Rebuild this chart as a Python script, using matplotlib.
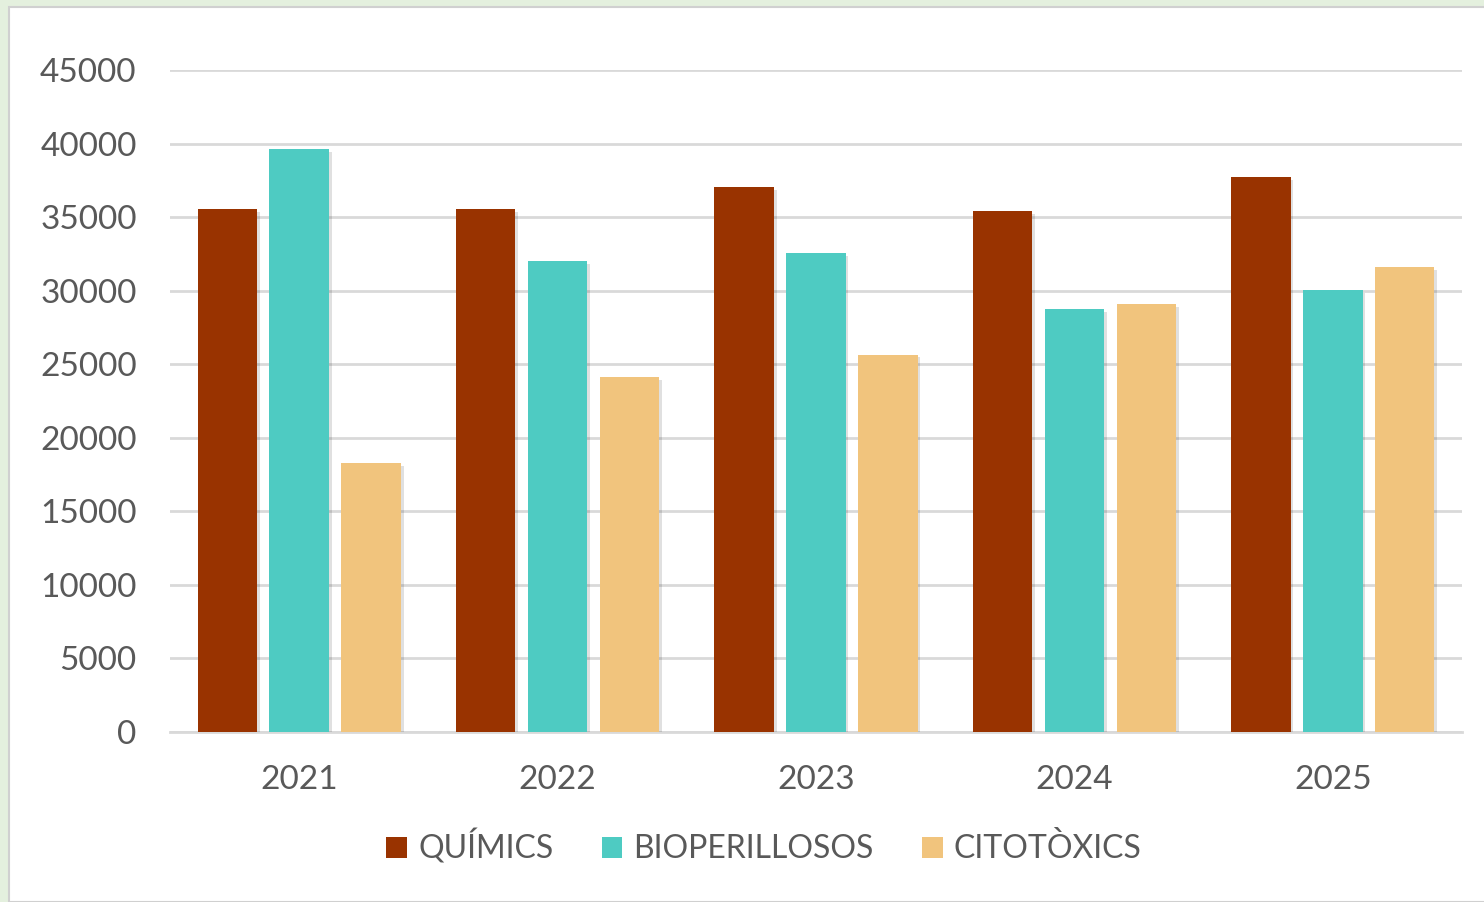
import matplotlib
matplotlib.use('Agg')
import matplotlib.pyplot as plt
import matplotlib.patheffects as pe
from matplotlib.patches import Rectangle, Patch
import numpy as np

years = ['2021', '2022', '2023', '2024', '2025']
quimics = [35550, 35550, 37050, 35400, 37700]
bioperillosos = [39600, 32000, 32550, 28750, 30050]
citotoxics = [18300, 24150, 25650, 29100, 31600]

series = [('QUÍMICS', quimics, '#993300'),
          ('BIOPERILLOSOS', bioperillosos, '#4ECBC2'),
          ('CITOTÒXICS', citotoxics, '#F1C47D')]

plt.rcParams['font.family'] = ['Lato', 'DejaVu Sans']
text_col = '#595959'

fig = plt.figure(figsize=(14.84, 9.02), dpi=100, facecolor='#E4F0DE')
# white chart area inside the light green frame
fig.patches.append(Rectangle((9/1484, 0), 1, 1 - 7/902, transform=fig.transFigure,
                             facecolor='white', edgecolor='#D0D0D0', linewidth=1.5, zorder=-5))

ax = fig.add_axes([170/1484, 1 - 732/902, 1292/1484, 662/902])
ax.set_facecolor('none')

x = np.arange(len(years))
width = 0.23
step = 0.278
shadow = [pe.SimplePatchShadow(offset=(2, -2), shadow_rgbFace='#000000', alpha=0.12), pe.Normal()]
handles = []
for i, (name, vals, col) in enumerate(series):
    ax.bar(x + (i - 1) * step, vals, width, color=col, zorder=3, path_effects=shadow)
    handles.append(Patch(facecolor=col, label=name))

ax.set_xlim(-0.5, 4.5)
ax.set_ylim(0, 45000)
ax.set_yticks(range(0, 45001, 5000))
ax.set_xticks(x)
ax.set_xticklabels(years)
ax.yaxis.grid(True, color='#D9D9D9', linewidth=2, zorder=0)
ax.set_axisbelow(True)
for s in ['top', 'right', 'left']:
    ax.spines[s].set_visible(False)
ax.spines['bottom'].set_color('#D9D9D9')
ax.spines['bottom'].set_linewidth(2)
ax.tick_params(axis='both', length=0, labelsize=24, labelcolor=text_col)
ax.tick_params(axis='y', pad=24)
ax.tick_params(axis='x', pad=24)

leg = fig.legend(handles=handles, loc='center', bbox_to_anchor=(764/1484, 1 - 847/902), ncol=3,
                 frameon=False, fontsize=23, handlelength=0.65, handleheight=0.65,
                 handletextpad=0.35, columnspacing=1.5)
for t in leg.get_texts():
    t.set_color(text_col)

fig.savefig('out.png', dpi=100, facecolor=fig.get_facecolor())
